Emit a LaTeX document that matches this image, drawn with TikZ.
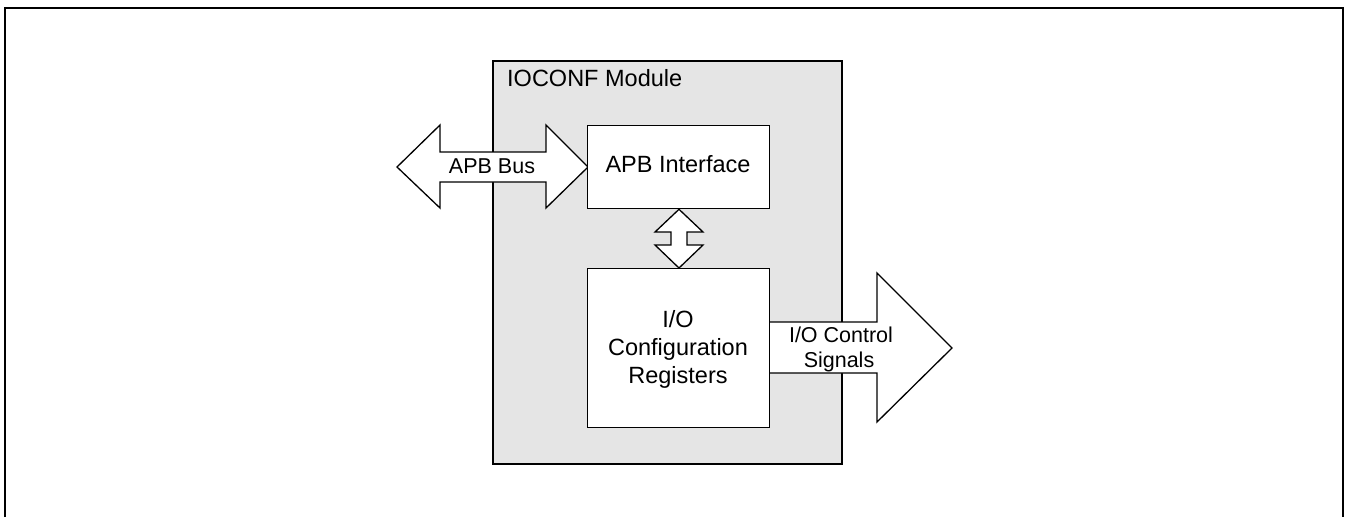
\documentclass[tikz,border=0pt]{standalone}
\usepackage{fontspec}
\setmainfont{Liberation Sans}
\begin{document}
\begin{tikzpicture}[x=1pt,y=-1pt,
  box/.style={draw=black,line width=1.3pt,fill=white},
  bigarrow/.style={draw=black,line width=1.3pt,fill=white,line join=miter},
  bigtext/.style={font=\fontsize{23.5}{28}\selectfont,inner sep=0pt,align=center},
  smalltext/.style={font=\fontsize{21.5}{25}\selectfont,inner sep=0pt,align=center}]
\useasboundingbox (0,0) rectangle (1348,517);
% outer frame (open at bottom)
\draw[line width=2pt] (5,517) -- (5,8) -- (1343,8) -- (1343,517);
% module
\draw[draw=black,line width=1.3pt,fill=black!10] (493,61) rectangle (842,464);
\node[bigtext,anchor=base west] (modlabel) at (507,86) {IOCONF Module};
% APB bus arrow
\draw[bigarrow] (397,167) -- (440,125) -- (440,152) -- (546,152) -- (546,125)
  -- (588,167) -- (546,208) -- (546,182) -- (440,182) -- (440,208) -- cycle;
\node[smalltext,anchor=base] (apbbus) at (492,173) {APB Bus};
% output arrow
\draw[bigarrow] (769,322) -- (877,322) -- (877,273) -- (952,348) -- (877,422)
  -- (877,373) -- (769,373) -- cycle;
\node[smalltext,anchor=base] (ctrl1) at (841,342) {I/O Control};
\node[smalltext,anchor=base] (ctrl2) at (839,367) {Signals};
% boxes
\node[box,minimum width=182pt,minimum height=83pt,anchor=north west] (apbif) at (587,125) {};
\node[bigtext,anchor=base] (apbiftext) at (678,172) {APB Interface};
\node[box,minimum width=182pt,minimum height=159pt,anchor=north west] (regs) at (587,268) {};
\node[bigtext,anchor=base] (r1) at (678,327) {I/O};
\node[bigtext,anchor=base] (r2) at (678,355) {Configuration};
\node[bigtext,anchor=base] (r3) at (678,383) {Registers};
% vertical double arrow between apbif and regs
\draw[bigarrow] (apbif.south -| 679,0) -- (703,232) -- (687,232) -- (687,245) -- (703,245)
  -- (regs.north -| 679,0) -- (655,245) -- (671,245) -- (671,232) -- (655,232) -- cycle;
\end{tikzpicture}
\end{document}
